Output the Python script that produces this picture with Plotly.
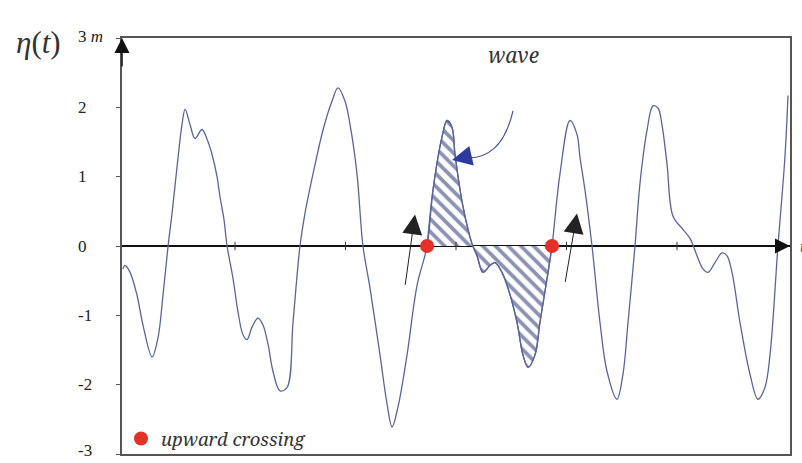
import plotly.graph_objects as go

# Surface elevation record eta(t) in metres
t = [-0.014, 0.005, 0.050, 0.113, 0.167, 0.249, 0.303, 0.348, 0.394, 0.430,
     0.475, 0.520, 0.548, 0.593, 0.638, 0.701, 0.747, 0.792, 0.837, 0.864,
     0.900, 0.928, 0.982, 1.027, 1.072, 1.109, 1.154, 1.208, 1.253, 1.299,
     1.344, 1.407, 1.471, 1.525, 1.588, 1.633, 1.706, 1.796, 1.878, 1.932,
     1.995, 2.041, 2.104, 2.158, 2.222, 2.312, 2.376, 2.421, 2.475, 2.557,
     2.647, 2.738, 2.792, 2.873, 2.919, 2.964, 2.991, 3.063, 3.145, 3.190,
     3.244, 3.308, 3.353, 3.416, 3.471, 3.552, 3.606, 3.652, 3.715, 3.760,
     3.833, 3.869, 3.941, 4.032, 4.095, 4.122, 4.167, 4.231, 4.303, 4.367,
     4.457, 4.511, 4.557, 4.620, 4.665, 4.729, 4.783, 4.828, 4.864, 4.910,
     4.964, 5.054, 5.118, 5.181, 5.235, 5.281, 5.344, 5.407, 5.452, 5.498,
     5.570, 5.661, 5.733, 5.796, 5.842, 5.914, 5.977, 6.005]
eta = [-0.33, -0.28, -0.38, -0.71, -1.14, -1.60, -1.32, -0.71, 0.00, 0.47,
       1.14, 1.75, 1.97, 1.75, 1.55, 1.68, 1.54, 1.32, 1.00, 0.71,
       0.38, 0.00, -0.47, -0.95, -1.28, -1.35, -1.17, -1.04, -1.14, -1.42,
       -1.81, -2.09, -2.04, -1.10, 0.00, 0.47, 1.04, 1.67, 2.09, 2.28,
       2.09, 1.75, 1.04, 0.00, -0.61, -1.57, -2.28, -2.61, -2.32, -1.57,
       -0.57, 0.00, 0.81, 1.57, 1.81, 1.71, 1.32, 0.57, 0.03, -0.14,
       -0.38, -0.28, -0.24, -0.38, -0.61, -1.10, -1.57, -1.75, -1.57, -1.10,
       -0.38, 0.00, 1.04, 1.81, 1.61, 1.28, 0.81, 0.00, -1.10, -1.81,
       -2.21, -1.85, -1.10, 0.00, 0.90, 1.67, 2.02, 1.99, 1.75, 1.18,
       0.43, 0.24, 0.11, -0.14, -0.33, -0.38, -0.24, -0.10, -0.14, -0.38,
       -1.10, -1.85, -2.21, -2.04, -1.57, 0.00, 1.28, 2.17]

# Two successive zero up-crossings delimit one wave
crossing_t = [2.738, 3.869]
crossing_eta = [0.0, 0.0]

# Axis ticks and labels
y_ticks = [-3, -2, -1, 0, 1, 2, 3]
y_labels = ["-3", "-2", "-1", "0", "1", "2", "3 <i>m</i>"]
x_ticks = [1, 2, 3, 4, 5]

X_RANGE = [-0.023, 6.023]
Y_RANGE = [-3, 3]

LINE_COLOR = "#5a649c"
HATCH_COLOR = "#1a2566"
RED = "#e5302a"
SERIF = '"Liberation Serif", serif'
SERIF_WIDE = '"Noto Serif", "Liberation Serif", serif'

i0 = t.index(crossing_t[0])
i1 = t.index(crossing_t[1])

line_style = dict(color=LINE_COLOR, width=1.3, shape="spline", smoothing=1.0)

fig = go.Figure()

# hatched area of the wave between the two up-crossings
fig.add_trace(go.Scatter(
    x=t[i0:i1 + 1], y=eta[i0:i1 + 1], mode="lines", line=line_style,
    fill="tozeroy", fillcolor="rgba(0,0,0,0)",
    fillpattern=dict(shape="\\", fgcolor=HATCH_COLOR, bgcolor="white",
                     size=9, solidity=0.42),
    showlegend=False, hoverinfo="skip"))

# full record
fig.add_trace(go.Scatter(x=t, y=eta, mode="lines", line=line_style,
                         showlegend=False))

# small tick marks on the time axis
fig.add_trace(go.Scatter(
    x=x_ticks, y=[0] * len(x_ticks), mode="markers",
    marker=dict(symbol="line-ns", size=6, line=dict(color="#333", width=1)),
    showlegend=False, hoverinfo="skip", cliponaxis=False))

# zero up-crossing points
fig.add_trace(go.Scatter(
    x=crossing_t, y=crossing_eta, mode="markers", name="upward crossing",
    marker=dict(color=RED, size=14, line=dict(width=0)),
    cliponaxis=False))

ann = []
# y tick labels, left aligned
for v, lab in zip(y_ticks, y_labels):
    ann.append(dict(x=-0.0685, xref="paper", y=v, yref="y", text=lab,
                    showarrow=False, xanchor="left", yanchor="middle",
                    yshift=4 if v == Y_RANGE[0] else (2 if v == Y_RANGE[1] else 0),
                    font=dict(family=SERIF, size=17, color="#222")))

# eta(t) axis title
ann.append(dict(x=-0.1255, xref="paper", y=2.93, yref="y",
                text="<i>η</i>(<i>t</i>)", showarrow=False,
                xanchor="center", yanchor="middle",
                font=dict(family=SERIF, size=31, color="#333")))

# axis arrows
ann.append(dict(x=X_RANGE[0], y=Y_RANGE[1], xref="x", yref="y", text="",
                showarrow=True, ax=0, ay=30, arrowhead=2, arrowsize=2,
                arrowwidth=1.5, arrowcolor="#111"))
ann.append(dict(x=X_RANGE[1], y=0, xref="x", yref="y", text="",
                showarrow=True, ax=-30, ay=0, arrowhead=2, arrowsize=2,
                arrowwidth=1.5, arrowcolor="#111"))
ann.append(dict(x=1.0, xref="paper", y=0, yref="y", text="<i>t</i>",
                showarrow=False, xanchor="left", xshift=8,
                font=dict(family=SERIF, size=16, color="#555")))

# direction arrows next to the up-crossings
ann.append(dict(x=2.629, y=0.456, xref="x", yref="y", text="",
                showarrow=True, ax=-10, ay=72, arrowhead=2, arrowsize=4,
                arrowwidth=1, arrowcolor="#222"))
ann.append(dict(x=4.095, y=0.47, xref="x", yref="y", text="",
                showarrow=True, ax=-12, ay=70, arrowhead=2, arrowsize=4,
                arrowwidth=1, arrowcolor="#222"))

# "wave" label and its pointer
ann.append(dict(x=3.516, y=2.75, xref="x", yref="y", text="<i>wave</i>",
                showarrow=False, xanchor="center", yanchor="middle",
                font=dict(family=SERIF_WIDE, size=21, color="#333")))
ann.append(dict(x=2.964, y=1.24, xref="x", yref="y", text="",
                showarrow=True, ax=18, ay=-4, arrowhead=2, arrowsize=4,
                arrowwidth=1, arrowcolor="#2b3a9c"))

shapes = [dict(type="path", xref="x", yref="y",
               path="M 3.516 1.95 Q 3.42 1.28 3.12 1.27",
               line=dict(color="#4a5590", width=1.2))]

fig.update_layout(
    width=802, height=463,
    margin=dict(l=122, r=12, t=38, b=5),
    paper_bgcolor="white", plot_bgcolor="white",
    annotations=ann, shapes=shapes,
    showlegend=True,
    legend=dict(x=-0.0015, y=0.036, xanchor="left", yanchor="middle",
                bgcolor="rgba(0,0,0,0)", borderwidth=0,
                font=dict(family=SERIF_WIDE, size=18.5, color="#333",
                          style="italic")),
    xaxis=dict(range=X_RANGE, showgrid=False, zeroline=False,
               showticklabels=False, ticks="",
               showline=True, mirror=True, linecolor="#555", linewidth=1.5),
    yaxis=dict(range=Y_RANGE, showgrid=False, zeroline=True,
               zerolinecolor="#111", zerolinewidth=1.5,
               tickvals=y_ticks, showticklabels=False,
               ticks="outside", ticklen=4, tickcolor="#555",
               showline=True, mirror=True, linecolor="#555", linewidth=1.5),
)

fig.write_html("out.html")
